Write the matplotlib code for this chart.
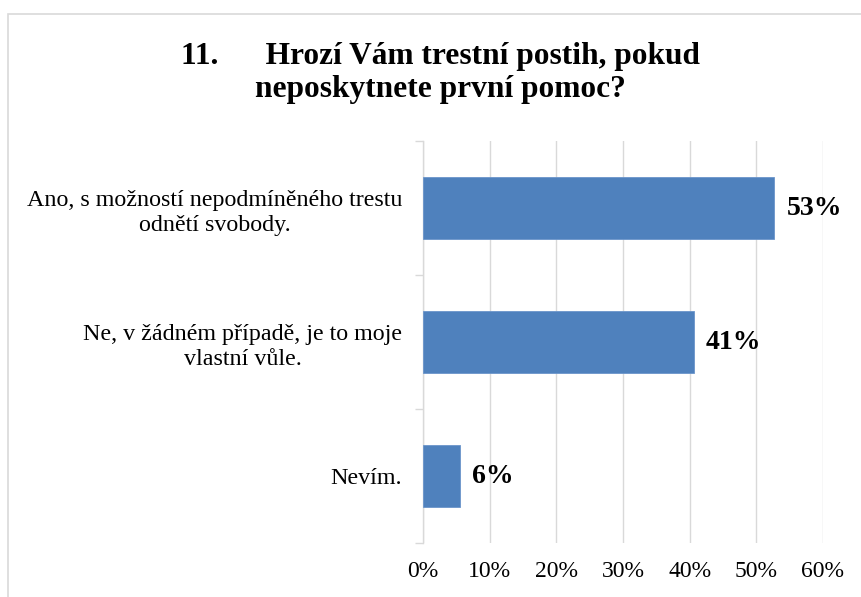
import numpy as np
import matplotlib.pyplot as plt
from matplotlib.patches import Rectangle

categories = ["Ano, s možností nepodmíněného trestu\nodnětí svobody.",
              "Ne, v žádném případě, je to moje\nvlastní vůle.",
              "Nevím."]
values = [52.7, 40.6, 5.5]
labels = ["53%", "41%", "6%"]
xticks = [0, 10, 20, 30, 40, 50, 60]
title = "11.      Hrozí Vám trestní postih, pokud\nneposkytnete první pomoc?"

plt.rcParams['font.family'] = ['Liberation Serif', 'DejaVu Serif']

fig = plt.figure(figsize=(8.62, 5.97), dpi=100)
fig.patches.append(Rectangle((8 / 862, -0.1), 1.2, 1 - 14 / 597 + 0.1,
                             transform=fig.transFigure, fill=False,
                             edgecolor='#d9d9d9', linewidth=1.2))

ax = fig.add_axes([423 / 862, 1 - 543 / 597, 400 / 862, 402 / 597])
y = np.arange(len(categories))
ax.barh(y, values, height=0.47, color='#4f81bd', edgecolor='#6b95cb',
        linewidth=0.6, zorder=3)
for yi, v, lab in zip(y, values, labels):
    ax.text(v + 1.8, yi, lab, va='center', ha='left', fontsize=20,
            fontweight='bold')

ax.set_xlim(0, 60)
ax.set_ylim(2.5, -0.5)
ax.set_xticks(xticks)
ax.set_xticklabels([f"{t}%" for t in xticks], fontsize=17)
ax.set_yticks(y)
ax.set_yticklabels(categories, fontsize=17.3, multialignment='center',
                   linespacing=1.25)
ax.set_yticks([-0.5, 0.5, 1.5, 2.5], minor=True)
ax.tick_params(axis='y', which='major', length=0, pad=15)
ax.tick_params(axis='y', which='minor', length=6, color='#d9d9d9', width=1)
ax.tick_params(axis='x', length=0, pad=13)
ax.grid(axis='x', color='#d9d9d9', linewidth=1, zorder=0)
for s in ['top', 'right', 'bottom']:
    ax.spines[s].set_visible(False)
ax.spines['left'].set_color('#d9d9d9')
ax.spines['left'].set_linewidth(1)

fig.text(0.511, 1 - 73 / 597, title, ha='center', va='center', fontsize=22.6,
         fontweight='bold', multialignment='center', linespacing=1.2)

fig.savefig("out.png", dpi=100)
